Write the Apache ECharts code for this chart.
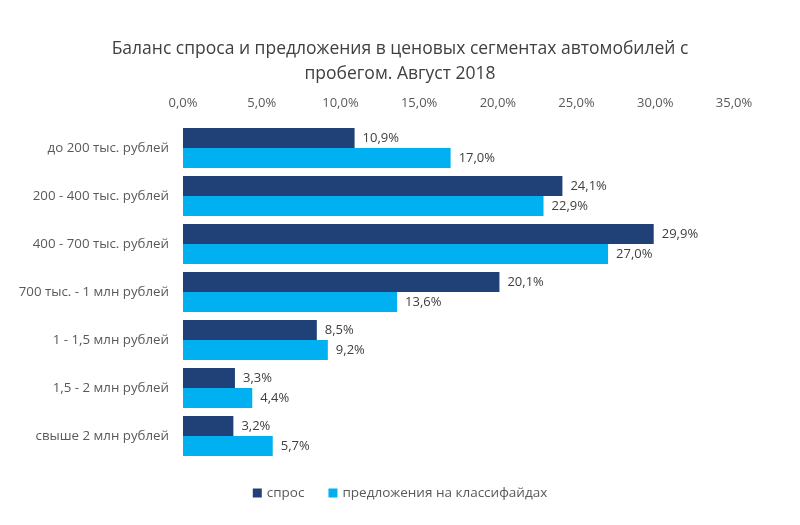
<!DOCTYPE html>
<html><head><meta charset="utf-8">
<script src="https://cdn.jsdelivr.net/npm/echarts@6/dist/echarts.min.js"></script>
<style>html,body{margin:0;padding:0;background:#fff}#c{width:800px;height:525px}</style>
</head><body><div id="c"></div>
<script>
const categories = ['до 200 тыс. рублей','200 - 400 тыс. рублей','400 - 700 тыс. рублей','700 тыс. - 1 млн рублей','1 - 1,5 млн рублей','1,5 - 2 млн рублей','свыше 2 млн рублей'];
const demand = [10.9, 24.1, 29.9, 20.1, 8.5, 3.3, 3.2];
const supply = [17.0, 22.9, 27.0, 13.6, 9.2, 4.4, 5.7];
const seriesNames = ['спрос', 'предложения на классифайдах'];
const fmt = v => v.toFixed(1).replace('.', ',') + '%';
const font = 'Open Sans, sans-serif';
const chart = echarts.init(document.getElementById('c'));
chart.setOption({
  animation: false,
  title: {
    text: 'Баланс спроса и предложения в ценовых сегментах автомобилей с\nпробегом. Август 2018',
    left: 'center', top: 32,
    textStyle: {fontFamily: font, fontSize: 17.5, fontWeight: 'normal', color: '#404040', lineHeight: 25}
  },
  legend: {
    bottom: 20, left: 'center', itemWidth: 9, itemHeight: 9, itemGap: 24, icon: 'rect',
    textStyle: {fontFamily: font, fontSize: 13.5, color: '#595959'},
    data: seriesNames
  },
  grid: {left: 183, right: 66, top: 124, height: 336},
  xAxis: {
    type: 'value', position: 'top', min: 0, max: 35, interval: 5,
    axisLine: {show: false}, axisTick: {show: false}, splitLine: {show: false},
    axisLabel: {formatter: fmt, fontFamily: font, fontSize: 13, color: '#595959', margin: 14}
  },
  yAxis: {
    type: 'category', inverse: true, data: categories,
    axisLine: {show: false}, axisTick: {show: false},
    axisLabel: {fontFamily: font, fontSize: 13.3, color: '#595959', margin: 14}
  },
  series: [
    {name: seriesNames[0], type: 'bar', data: demand, barGap: '0%', barCategoryGap: '17%',
     itemStyle: {color: '#1f4177'},
     label: {show: true, position: 'right', formatter: p => fmt(p.value), fontFamily: font, fontSize: 13, color: '#404040', distance: 8}},
    {name: seriesNames[1], type: 'bar', data: supply, barGap: '0%', barCategoryGap: '17%',
     itemStyle: {color: '#00b0f0'},
     label: {show: true, position: 'right', formatter: p => fmt(p.value), fontFamily: font, fontSize: 13, color: '#404040', distance: 8}}
  ]
});
</script></body></html>
